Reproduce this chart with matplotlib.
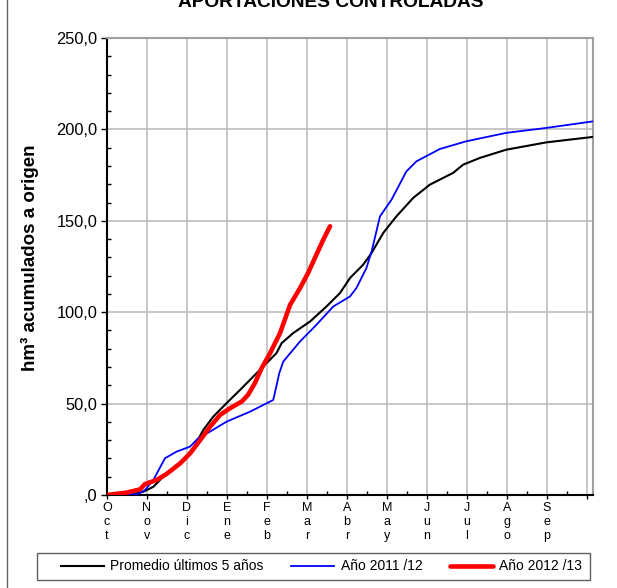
import numpy as np
import matplotlib
matplotlib.use('Agg')
import matplotlib.pyplot as plt
from matplotlib.lines import Line2D
from matplotlib.patches import Rectangle
from matplotlib.ticker import MultipleLocator, FuncFormatter

plt.rcParams['font.family'] = ['Liberation Sans', 'DejaVu Sans']

# month labels (hydrological year Oct..Sep), written letter over letter
months = ['Oct', 'Nov', 'Dic', 'Ene', 'Feb', 'Mar', 'Abr', 'May', 'Jun', 'Jul', 'Ago', 'Sep']

# x in months since 1 Oct, y in hm3 accumulated
prom_x = [0, 0.66, 0.91, 1.16, 1.49, 1.83, 2.16, 2.41, 2.66, 2.99, 3.33, 3.66, 3.99, 4.24,
          4.37, 4.66, 5.08, 5.49, 5.83, 6.08, 6.41, 6.62, 6.91, 7.24, 7.66, 8.08, 8.66,
          8.91, 9.33, 9.99, 10.99, 12.16]
prom_y = [0, 0.5, 1.8, 4.5, 11.9, 17.3, 25.6, 35.6, 42.9, 50.2, 57.5, 64.8, 72.1, 77.6,
          83.1, 88.6, 94.9, 103.1, 110.5, 118.7, 126.0, 132.4, 143.3, 152.4, 162.5, 169.8,
          176.2, 180.7, 184.4, 188.9, 192.9, 195.9]

y11_x = [0, 0.78, 0.95, 1.16, 1.45, 1.74, 2.08, 2.28, 2.58, 2.99, 3.58, 4.16, 4.31, 4.41,
         4.83, 5.24, 5.66, 6.08, 6.24, 6.49, 6.62, 6.83, 7.12, 7.49, 7.74, 8.33, 8.99,
         9.99, 10.99, 12.16]
y11_y = [0, 0.5, 2.7, 8.2, 20.1, 23.7, 26.5, 31.0, 34.7, 40.1, 45.6, 52.0, 66.6, 73.0,
         84.0, 93.1, 103.1, 108.6, 113.2, 124.1, 133.2, 152.4, 161.6, 177.0, 182.5, 189.3,
         193.5, 198.1, 200.8, 204.4]

y12_x = [0, 0.49, 0.83, 0.95, 1.24, 1.49, 1.83, 2.08, 2.33, 2.58, 2.83, 3.08, 3.37, 3.53,
         3.70, 3.87, 4.08, 4.33, 4.58, 4.83, 5.03, 5.20, 5.41, 5.58]
y12_y = [0, 1.3, 3.1, 6.0, 8.2, 11.5, 17.3, 22.8, 30.0, 37.4, 43.8, 47.5, 51.1, 54.8,
         61.2, 69.4, 77.6, 88.6, 104.0, 113.2, 121.4, 129.6, 139.6, 147.0]

W, H = 617, 588
fig = plt.figure(figsize=(W / 100, H / 100), dpi=100)
ax = fig.add_axes([107 / W, 1 - 495 / H, (593 - 107) / W, (495 - 38) / H])

ax.plot(prom_x, prom_y, color='black', lw=1.5, label='Promedio últimos 5 años', zorder=3)
ax.plot(y11_x, y11_y, color='#0000ff', lw=1.3, label='Año 2011 /12', zorder=3)
ax.plot(y12_x, y12_y, color='#ff0000', lw=3.3, label='Año 2012 /13', zorder=4,
        solid_capstyle='round')

ax.set_xlim(0, 12.16)
ax.set_ylim(0, 250)

# grid
for k in range(1, 13):
    ax.axvline(k, color='#bdbdbd', lw=1.2, zorder=1)
for v in (50, 100, 150, 200):
    ax.axhline(v, color='#bdbdbd', lw=1.2, zorder=1)

ax.yaxis.set_major_locator(MultipleLocator(50))
ax.yaxis.set_minor_locator(MultipleLocator(10))
ax.yaxis.set_major_formatter(FuncFormatter(lambda v, p: ('%.1f' % v).replace('.', ',').lstrip('0')))
ax.tick_params(axis='y', which='major', direction='out', length=4, width=1, labelsize=11.8, pad=3)
ax.tick_params(axis='y', which='minor', direction='in', length=3, width=1)

ax.set_xticks(range(0, 13))
ax.set_xticklabels(['\n'.join(m) for m in months] + [''])
ax.set_xticks(np.arange(0.5, 12.5, 1), minor=True)
ax.tick_params(axis='x', which='major', direction='out', length=3, width=1, labelsize=9, pad=2)
ax.tick_params(axis='x', which='minor', direction='in', length=3, width=1)
for lab in ax.get_xticklabels():
    lab.set_linespacing(1.2)

for s in ('left', 'bottom'):
    ax.spines[s].set_color('black')
    ax.spines[s].set_linewidth(1.5)
for s in ('top', 'right'):
    ax.spines[s].set_color('#a0a0a0')
    ax.spines[s].set_linewidth(1.5)

fig.text(30 / W, 1 - 258 / H, 'hm³ acumulados a origen', rotation=90, ha='center',
         va='center', fontsize=13.5, fontweight='bold')

fig.text(331 / W, 1 - 7 / H, 'APORTACIONES CONTROLADAS', ha='center', va='baseline',
         fontsize=13.8, fontweight='bold')

leg = fig.legend(loc='center', bbox_to_anchor=(321.5 / W, 1 - 566.5 / H), ncol=3,
                 fontsize=10, frameon=False, handlelength=3.1,
                 columnspacing=2.0, handletextpad=0.45)
fig.add_artist(Rectangle((37 / W, 1 - 580 / H), (590 - 37) / W, 27 / H,
                         transform=fig.transFigure, fill=False, edgecolor='#606060', lw=1))

fig.add_artist(Line2D([7 / W, 7 / W], [0, 1], transform=fig.transFigure,
                      color='#606060', lw=1))

fig.savefig('out.png', dpi=100)
